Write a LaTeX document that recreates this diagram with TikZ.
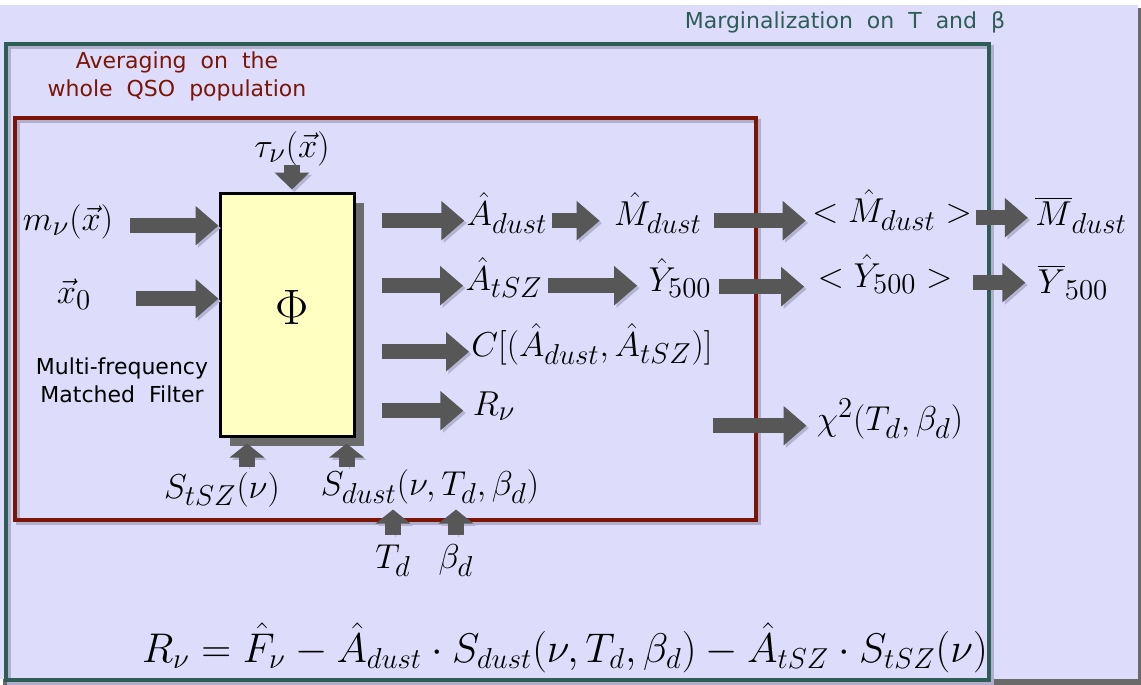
\documentclass[tikz,border=0pt]{standalone}
\usepackage{fontspec}
\newfontfamily\labfont{DejaVu Sans}
\usetikzlibrary{arrows.meta,shadows}
\definecolor{lav}{HTML}{DDDCFA}
\definecolor{edgegray}{HTML}{6A6A6A}
\definecolor{teal}{HTML}{2E5D58}
\definecolor{darkred}{HTML}{7A1508}
\definecolor{boxyellow}{HTML}{FFFFC2}
\definecolor{arrowgray}{HTML}{575757}
\definecolor{arrowshadow}{HTML}{B4B3D2}
\definecolor{boxshadow}{HTML}{6B6B6B}
\definecolor{frameshadow}{HTML}{B0AFCC}
\tikzset{
  mlab/.style={inner sep=0pt, anchor=base, font=\fontsize{19}{23}\selectfont},
  slab/.style={inner sep=0pt, align=center, font=\labfont\fontsize{11}{14}\selectfont},
  fat/.style={draw=arrowgray, line width=7.5pt, -{Triangle[length=11.5pt,width=19pt]},
    preaction={draw=arrowshadow, transform canvas={shift={(1.2pt,-1.2pt)}}}},
  fatv/.style={draw=arrowgray, line width=8pt, -{Triangle[length=7pt,width=17pt]},
    preaction={draw=arrowshadow, transform canvas={shift={(1.2pt,-1.2pt)}}}},
  phibox/.style={draw=black, line width=1.5pt, fill=boxyellow, minimum width=67pt, minimum height=121.5pt, inner sep=0pt,
    drop shadow={shadow xshift=5pt, shadow yshift=-5pt, fill=boxshadow, opacity=1}},
}
\begin{document}
\begin{tikzpicture}[x=0.5pt,y=-0.5pt]
\useasboundingbox (0,0) rectangle (1141,685);
\fill[white] (0,0) rectangle (1141,685);
\fill[edgegray] (3,8) rectangle (1141,685);
\fill[lav] (0,5) rectangle (1138,679);
% frames
\draw[frameshadow, line width=2pt] (9,47) rectangle (992,683);
\draw[teal, line width=2pt] (6,44) rectangle (989,680);
\draw[frameshadow, line width=2pt] (18,121) rectangle (759,523);
\draw[darkred, line width=2pt] (15,118) rectangle (756,520);
\node[slab, text=teal] (marg) at (845,22) {Marginalization\ \ on\ \ T\ \ and\ \ β};
\node[slab, text=darkred] (avg) at (177,76) {Averaging\ \ on\ \ the\\ whole\ \ QSO\ \ population};
\node[slab, text=black] (mff) at (122,380) {Multi-frequency\\Matched\ \ Filter};
% filter box
\node[phibox] (phi) at (287,314.5) {};
\node[inner sep=0pt, font=\fontsize{25}{30}\selectfont] (phitxt) at (292,307) {$\Phi$};
% inputs
\node[mlab] (tau) at (292,157) {$\tau_\nu(\vec x)$};
\node[mlab] (mnu) at (68,230) {$m_\nu(\vec x)$};
\node[mlab] (x0) at (74,303) {$\vec x_0$};
% outputs
\node[mlab] (adust) at (507,225) {$\hat A_{dust}$};
\node[mlab] (mdust) at (658,225) {$\hat M_{dust}$};
\node[mlab] (avgm) at (892,222) {$<\hat M_{dust}>$};
\node[mlab] (mbar) at (1081,225) {$\overline{M}_{dust}$};
\node[mlab] (atsz) at (504,290) {$\hat A_{tSZ}$};
\node[mlab] (y500) at (680,291) {$\hat Y_{500}$};
\node[mlab] (avgy) at (885,287) {$<\hat Y_{500}>$};
\node[mlab] (ybar) at (1073,293) {$\overline{Y}_{500}$};
\node[mlab] (cov) at (592,356) {$C[(\hat A_{dust},\hat A_{tSZ})]$};
\node[mlab] (rnu) at (494,415) {$R_\nu$};
\node[mlab] (chi) at (890,430) {$\chi^2(T_d,\beta_d)$};
\coordinate (chiin) at (713,422);
% bottom inputs
\node[mlab] (stsz) at (222,498) {$S_{tSZ}(\nu)$};
\node[mlab] (sdust) at (430,495) {$S_{dust}(\nu,T_d,\beta_d)$};
\node[mlab] (td) at (393,568) {$T_d$};
\node[mlab] (bd) at (456,568) {$\beta_d$};
% equation
\node[inner sep=0pt, anchor=base, font=\fontsize{19.6}{24}\selectfont] (eq) at (565,662)
  {$R_\nu=\hat F_\nu-\hat A_{dust}\cdot S_{dust}(\nu,T_d,\beta_d)-\hat A_{tSZ}\cdot S_{tSZ}(\nu)$};
% arrows into filter
\draw[fat, shorten <=8.5pt] (mnu.mid east) -- (mnu.mid east -| phi.west);
\draw[fat, shorten <=22pt] (x0.mid east) -- (x0.mid east -| phi.west);
\draw[fatv, -{Triangle[length=8.5pt,width=17pt]}, shorten <=-0.5pt, shorten >=1pt] (tau.south) -- (tau.south |- phi.north);
\draw[fatv, shorten >=3pt] ([xshift=12.5pt,yshift=2.5pt]stsz.north) -- ([xshift=12.5pt]stsz.north |- phi.south);
\draw[fatv, shorten >=3pt] ([xshift=13pt,yshift=1pt]sdust.north west) -- ([xshift=13pt]sdust.north west |- phi.south);
\draw[fatv, shorten >=2.75pt] ([yshift=4.5pt]td.north) -- (td.north |- sdust.south);
\draw[fatv, shorten >=2.75pt] ([yshift=4.5pt]bd.north) -- (bd.north |- sdust.south);
% arrows out of filter
\draw[fat, shorten <=13pt, shorten >=1pt] (phi.east |- adust.mid west) -- (adust.mid west);
\draw[fat, shorten <=13pt, shorten >=1pt] (phi.east |- atsz.mid west) -- (atsz.mid west);
\draw[fat, shorten <=13pt, shorten >=1pt] (phi.east |- cov.mid west) -- (cov.mid west);
\draw[fat, shorten <=13pt, shorten >=4.5pt] (phi.east |- rnu.mid west) -- (rnu.mid west);
% chains
\draw[fat, shorten <=2pt, shorten >=7pt] (adust.mid east) -- (adust.mid east -| mdust.west);
\draw[fat, shorten <=6pt, shorten >=3pt] (mdust.mid east) -- (mdust.mid east -| avgm.west);
\draw[fat, shorten <=2pt, shorten >=3.5pt] (avgm.mid east) -- (avgm.mid east -| mbar.west);
\draw[fat, shorten <=2.5pt, shorten >=5.5pt] (atsz.mid east) -- (atsz.mid east -| y500.west);
\draw[fat, shorten <=3.5pt, shorten >=6.5pt] (y500.mid east) -- (y500.mid east -| avgy.west);
\draw[fat, shorten <=10pt, shorten >=6pt] (avgy.mid east) -- (avgy.mid east -| ybar.west);
\draw[fat, shorten >=5pt] (chiin |- chi.mid west) -- (chi.mid west);
\end{tikzpicture}
\end{document}
